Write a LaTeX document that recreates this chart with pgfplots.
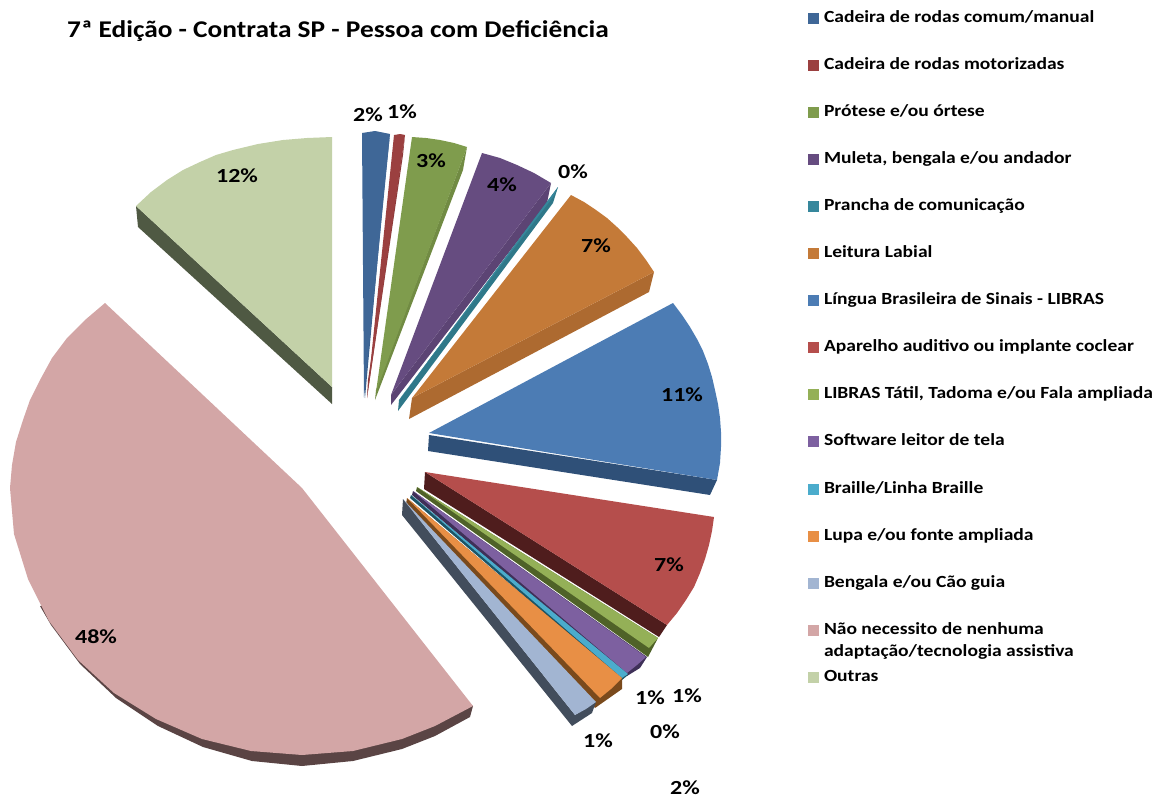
\documentclass[border=0pt]{standalone}
\usepackage{fontspec}
\setmainfont{Carlito}
\usepackage{pgfplots}
\pgfplotsset{compat=1.18}
\definecolor{c1}{HTML}{3F6797}\definecolor{s1}{HTML}{395E8B}
\definecolor{c2}{HTML}{9B4040}\definecolor{s2}{HTML}{8A3838}
\definecolor{c3}{HTML}{7F9C4D}\definecolor{s3}{HTML}{718B43}
\definecolor{c4}{HTML}{664C80}\definecolor{s4}{HTML}{5C4474}
\definecolor{c5}{HTML}{36879C}\definecolor{s5}{HTML}{2F7889}
\definecolor{c6}{HTML}{C47A38}\definecolor{s6}{HTML}{AD6A30}
\definecolor{c7}{HTML}{4C7CB4}\definecolor{s7}{HTML}{2F5078}
\definecolor{c8}{HTML}{B54E4C}\definecolor{s8}{HTML}{4F1D1D}
\definecolor{c9}{HTML}{94B057}\definecolor{s9}{HTML}{4F6228}
\definecolor{c10}{HTML}{7D60A0}\definecolor{s10}{HTML}{3F3058}
\definecolor{c11}{HTML}{4BACCC}\definecolor{s11}{HTML}{1D5566}
\definecolor{c12}{HTML}{E88F45}\definecolor{s12}{HTML}{7A4A1C}
\definecolor{c13}{HTML}{A2B5D2}\definecolor{s13}{HTML}{424D5C}
\definecolor{c14}{HTML}{D3A6A6}\definecolor{s14}{HTML}{5A4444}
\definecolor{c15}{HTML}{C3D1A8}\definecolor{s15}{HTML}{4F5943}
\newcommand\lgt[1]{\scalebox{1.15}[1]{\fontsize{17}{20}\selectfont\bfseries #1}}
\newcommand\pc[1]{\scalebox{1.2}[1]{\fontsize{20}{22}\selectfont\bfseries #1}}
\begin{document}
\begin{tikzpicture}
\begin{axis}[
  scale only axis, width=1159pt, height=800pt,
  xmin=0, xmax=1159, ymin=0, ymax=800, y dir=reverse,
  hide axis, clip=false,
  every axis plot/.append style={mark=none, draw=none, line width=0pt},
  legend image code/.code={\fill[#1] (0pt,-5.5pt) rectangle (11pt,5.5pt);},
  legend cell align=left,
  legend style={at={(axis cs:808,10.5)}, anchor=north west, draw=none, fill=none,
    inner sep=0pt, outer sep=0pt, row sep=31.05pt, column sep=5pt,
    nodes={inner sep=0pt, outer sep=0pt, text height=12pt, text depth=4pt}},
]
% frame
\addplot[forget plot, draw=none] coordinates {(0,0)(1159,800)};
% sides
\addplot[forget plot, fill=s1] coordinates {(390,134)(387,157)(365,398)(364,380)} --cycle;
\addplot[forget plot, fill=s2] coordinates {(405,135)(403,155)(367,398)(368,380)} --cycle;
\addplot[forget plot, fill=s3] coordinates {(467,147)(463,170)(375,400)(376,390)} --cycle;
\addplot[forget plot, fill=s4] coordinates {(551,183)(547,203)(391,405)(391,395)} --cycle;
\addplot[forget plot, fill=s5] coordinates {(558,187)(553,203)(398,411)(399,400)} --cycle;
\addplot[forget plot, fill=s6] coordinates {(654,272)(649,292)(409,419)(412,398)} --cycle;
\addplot[forget plot, fill=s7] coordinates {(429,435)(428,451)(710,495)(717,480)} --cycle;
\addplot[forget plot, fill=s8] coordinates {(425,472)(424,489)(659,637)(667,625)} --cycle;
\addplot[forget plot, fill=s9] coordinates {(417,487)(416,491)(648,657)(658,638)} --cycle;
\addplot[forget plot, fill=s10] coordinates {(413,491)(412,495)(627,676)(640,668)(647,657)} --cycle;
\addplot[forget plot, fill=s11] coordinates {(411,495)(410,498)(622,680)(628,675)} --cycle;
\addplot[forget plot, fill=s12] coordinates {(407,498)(406,504)(595,708)(622,689)(622,678)} --cycle;
\addplot[forget plot, fill=s13] coordinates {(403,499)(402,515)(572,726)(592,713)(596,702)(575,715)} --cycle;
\addplot[forget plot, fill=s14] coordinates {(40,606)(51,625)(80,664)(116,698)(158,726)(203,747)(252,761)(302,766)(353,761)(402,749)(435,736)(470,717)(473,706)(302,600)} --cycle;
\addplot[forget plot, fill=s15] coordinates {(136,206)(138,227)(332,404)(332,387)} --cycle;
% top faces
\addplot[fill=c1] coordinates {(364,398)(362,133)(375,131)(390,134)} --cycle;
\addplot[fill=c2] coordinates {(367,398)(394,135)(400,134)(405,135)} --cycle;
\addplot[fill=c3] coordinates {(376,392)(412,137)(426,138)(440,140)(454,143)(467,147)} --cycle;
\addplot[fill=c4] coordinates {(391,395)(482,153)(500,158)(517,165)(534,173)(551,183)} --cycle;
\addplot[fill=c5] coordinates {(399,400)(558,187)(553,197)} --cycle;
\addplot[fill=c6] coordinates {(412,398)(571,195)(584,202)(596,210)(607,218)(617,227)(627,237)(637,248)(646,260)(654,272)} --cycle;
\addplot[fill=c7] coordinates {(429,433)(673,303)(682,315)(690,327)(697,339)(703,351)(708,364)(712,377)(715,390)(718,404)(720,418)(721,432)(721,447)(720,463)(717,480)} --cycle;
\addplot[fill=c8] coordinates {(425,472)(714,517)(712,531)(709,545)(705,559)(700,573)(694,587)(686,600)(677,613)(667,625)} --cycle;
\addplot[fill=c9] coordinates {(417,487)(658,638)(649,648)} --cycle;
\addplot[fill=c10] coordinates {(413,491)(646,657)(637,665)(627,673)} --cycle;
\addplot[fill=c11] coordinates {(411,495)(628,674)(622,678)} --cycle;
\addplot[fill=c12] coordinates {(407,498)(622,678)(611,689)(600,698)} --cycle;
\addplot[fill=c13] coordinates {(403,499)(596,702)(586,709)(575,715)} --cycle;
\addplot[fill=c14] coordinates {(105,303)(85,320)(67,338)(52,358)(40,380)(30,400)(23,420)(16,442)(12,465)(10,488)(14,534)(28,579)(49,621)(78,660)(114,693)(156,719)(202,739)(251,751)(302,755)(353,751)(402,739)(435,726)(473,706)(302,488)} --cycle;
\addplot[fill=c15] coordinates {(332,137)(307,138)(283,140)(258,144)(233,150)(216,155)(200,162)(183,170)(167,180)(151,192)(136,206)(332,387)} --cycle;
\legend{\lgt{Cadeira de rodas comum/manual},
\lgt{Cadeira de rodas motorizadas},
\lgt{Prótese e/ou órtese},
\lgt{Muleta, bengala e/ou andador},
\lgt{Prancha de comunicação},
\lgt{Leitura Labial},
\lgt{Língua Brasileira de Sinais - LIBRAS},
\lgt{Aparelho auditivo ou implante coclear},
\lgt{LIBRAS Tátil, Tadoma e/ou Fala ampliada},
\lgt{Software leitor de tela},
\lgt{Braille/Linha Braille},
\lgt{Lupa e/ou fonte ampliada},
\lgt{Bengala e/ou Cão guia},
{\smash{\rlap{\raisebox{-22pt}{\lgt{adaptação/tecnologia assistiva}}}}\lgt{Não necessito de nenhuma}},
\lgt{Outras}}
% labels
\node at (axis cs:368,115) {\pc{2\%}};
\node at (axis cs:402,112) {\pc{1\%}};
\node at (axis cs:431,161) {\pc{3\%}};
\node at (axis cs:502,185) {\pc{4\%}};
\node at (axis cs:573,172) {\pc{0\%}};
\node at (axis cs:596,246) {\pc{7\%}};
\node at (axis cs:682,395) {\pc{11\%}};
\node at (axis cs:669,565) {\pc{7\%}};
\node at (axis cs:650,698) {\pc{1\%}};
\node at (axis cs:687,696) {\pc{1\%}};
\node at (axis cs:665,732) {\pc{0\%}};
\node at (axis cs:598,741) {\pc{1\%}};
\node at (axis cs:685,788) {\pc{2\%}};
\node at (axis cs:96,637) {\pc{48\%}};
\node at (axis cs:237,176) {\pc{12\%}};
\node[anchor=west, inner sep=0pt] at (axis cs:67,31) {\scalebox{1.14}[1]{\fontsize{24}{26}\selectfont\bfseries 7ª Edição - Contrata SP - Pessoa com Deficiência}};
\end{axis}
\end{tikzpicture}
\end{document}
